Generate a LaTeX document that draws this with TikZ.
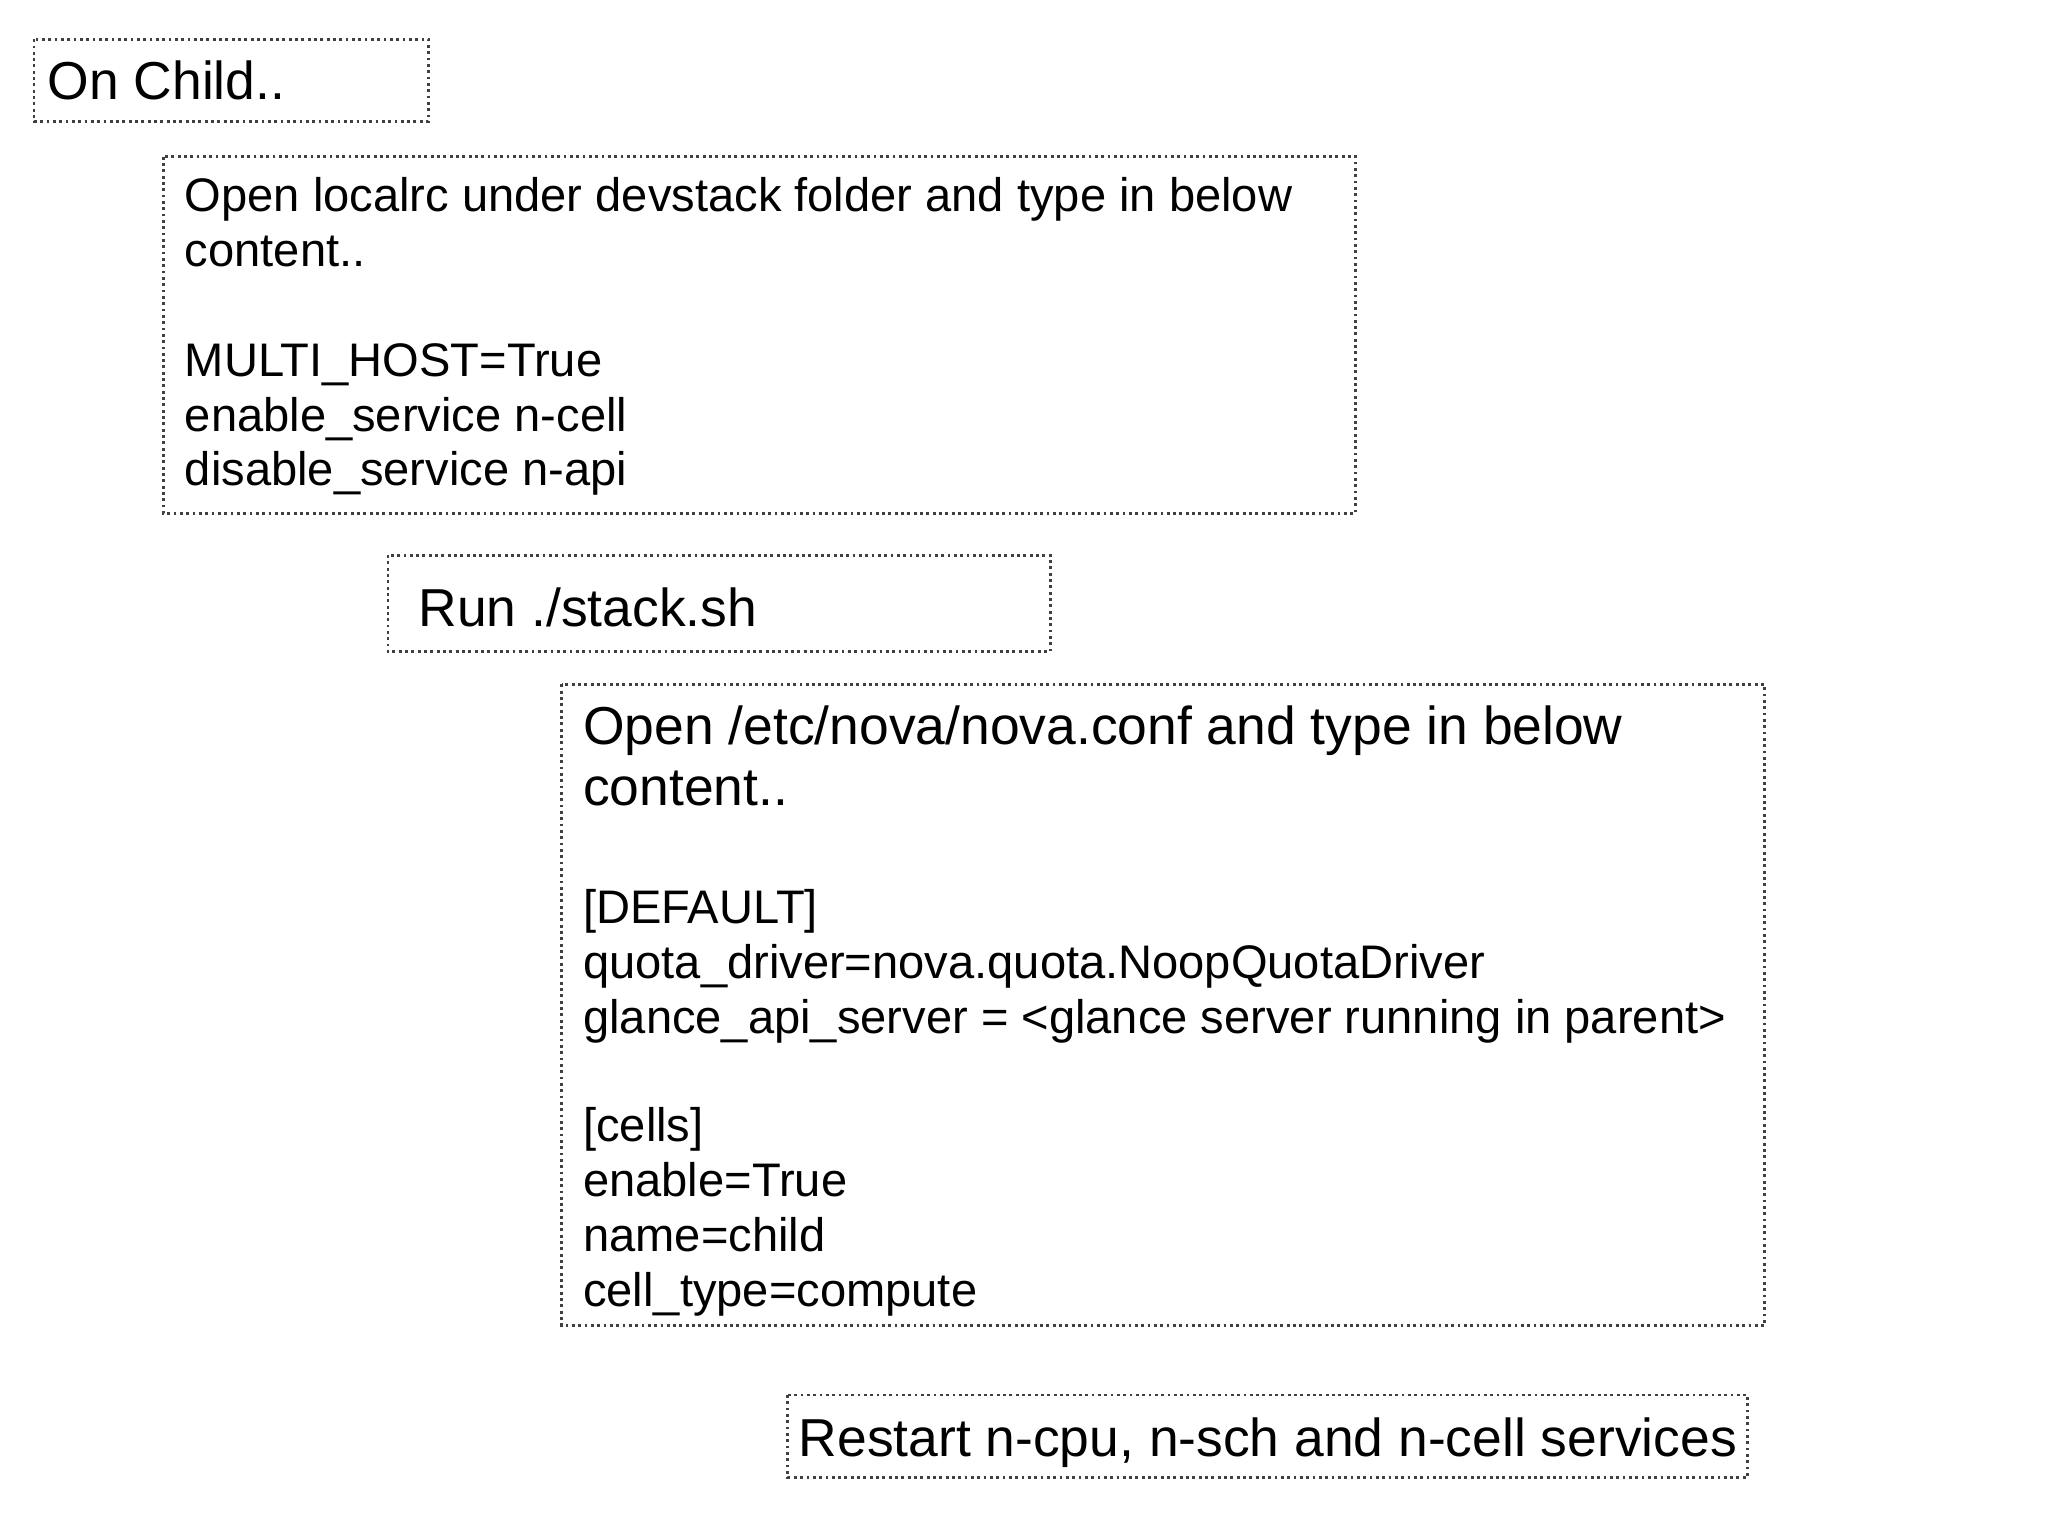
\documentclass[tikz,border=0pt]{standalone}
\usepackage{fontspec}
\setmainfont{Liberation Sans}
\begin{document}
\begin{tikzpicture}[x=0.01306cm,y=-0.01306cm,
  box/.style={draw=black!75,densely dotted,line width=0.8pt},
  sm/.style={anchor=base west,inner sep=0,font=\fontsize{13.4}{15}\selectfont},
  lg/.style={anchor=base west,inner sep=0,font=\fontsize{15.2}{17}\selectfont}]
\useasboundingbox (0,0) rectangle (1568,1176);
\draw[box] (26,30) rectangle (328,93);
\draw[box] (125,120) rectangle (1038,393);
\draw[box] (297,425) rectangle (804,499);
\draw[box] (430,524) rectangle (1351,1015);
\draw[box] (603,1068) rectangle (1338,1131);
\node[lg] (t1) at (36,76) {On Child..};
\node[sm] (a1) at (141,162) {Open localrc under devstack folder and type in below};
\node[sm] (a2) at (141,204) {content..};
\node[sm] (a3) at (141,288) {MULTI\_HOST=True};
\node[sm] (a4) at (141,330) {enable\_service n-cell};
\node[sm] (a5) at (141,372) {disable\_service n-api};
\node[lg] (r1) at (320,480) {Run ./stack.sh};
\node[lg] (b1) at (446,570) {Open /etc/nova/nova.conf and type in below};
\node[lg] (b2) at (446,617) {content..};
\node[sm] (b3) at (446,707) {[DEFAULT]};
\node[sm] (b4) at (446,749) {quota\_driver=nova.quota.NoopQuotaDriver};
\node[sm] (b5) at (446,791) {glance\_api\_server = <glance server running in parent>};
\node[sm] (b6) at (446,874) {[cells]};
\node[sm] (b7) at (446,916) {enable=True};
\node[sm] (b8) at (446,958) {name=child};
\node[sm] (b9) at (446,1000) {cell\_type=compute};
\node[lg] (c1) at (611,1115) {Restart n-cpu, n-sch and n-cell services};
\end{tikzpicture}
\end{document}
